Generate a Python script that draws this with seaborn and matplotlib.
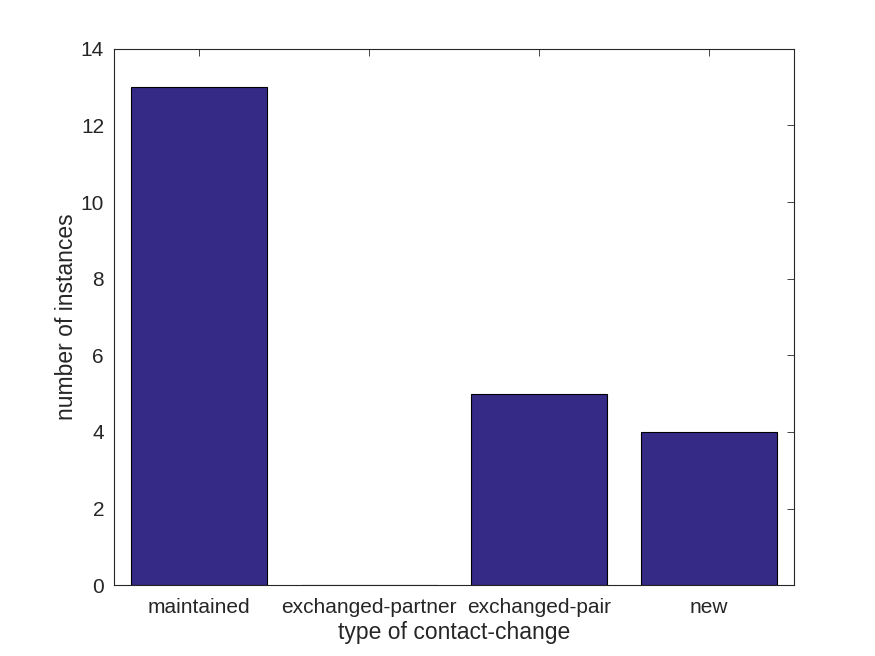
import matplotlib
matplotlib.use("Agg")
import matplotlib.pyplot as plt
import seaborn as sns
import pandas as pd

# data
categories = ["maintained", "exchanged-partner", "exchanged-pair", "new"]
counts = [13, 0, 5, 4]

df = pd.DataFrame({"type": categories, "count": counts})

sns.set_style("white")
plt.rcParams["font.family"] = ["Arial", "Liberation Sans", "DejaVu Sans"]

fig = plt.figure(figsize=(8.75, 6.56), dpi=100)
ax = fig.add_axes([0.13, 0.108, 0.7775, 0.8175])

sns.barplot(data=df, x="type", y="count", color="#352A86", saturation=1,
            width=0.8, edgecolor="black", linewidth=0.8, ax=ax)

ax.set_xlim(-0.5, 3.5)
ax.set_ylim(0, 14)
ax.set_yticks(range(0, 15, 2))
ax.set_xlabel("type of contact-change", fontsize=16.5, color="#262626", labelpad=3)
ax.set_ylabel("number of instances", fontsize=16.5, color="#262626", labelpad=2)
ax.tick_params(axis="both", direction="in", length=5, width=0.6,
               labelsize=15, colors="#262626", top=True, right=True)
ax.tick_params(axis="x", pad=9)
ax.tick_params(axis="y", pad=7)
for s in ax.spines.values():
    s.set_visible(True)
    s.set_color("#262626")
    s.set_linewidth(0.8)

fig.savefig("out.png", dpi=100)
